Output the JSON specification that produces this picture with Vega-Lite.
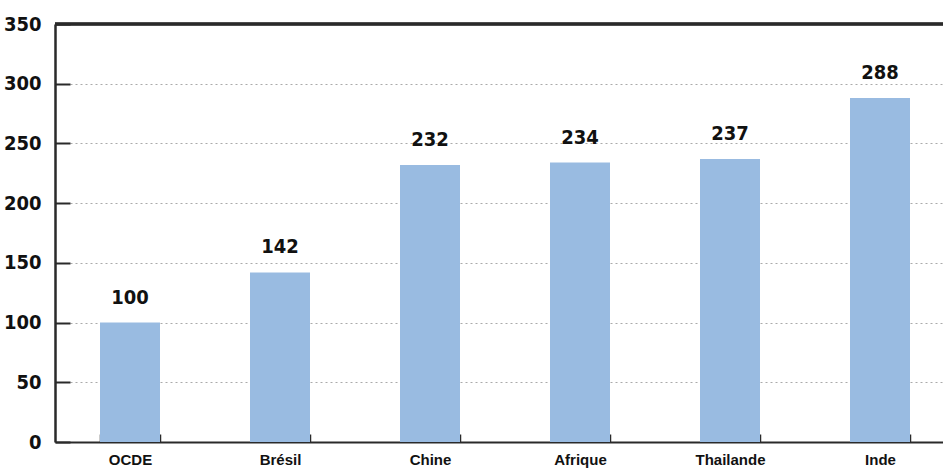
{
  "$schema": "https://vega.github.io/schema/vega-lite/v6.json",
  "width": 888,
  "height": 418,
  "autosize": {"type": "none"},
  "padding": {"left": 55, "top": 24, "right": 0, "bottom": 27},
  "background": "white",
  "config": {
    "view": {"stroke": null},
    "axis": {"labelColor": "#111", "domainColor": "#2a2a2a", "tickColor": "#2a2a2a"}
  },
  "data": {
    "values": [
      {"pays": "OCDE", "indice": 100},
      {"pays": "Brésil", "indice": 142},
      {"pays": "Chine", "indice": 232},
      {"pays": "Afrique", "indice": 234},
      {"pays": "Thailande", "indice": 237},
      {"pays": "Inde", "indice": 288}
    ]
  },
  "encoding": {
    "x": {
      "field": "pays",
      "type": "nominal",
      "sort": null,
      "scale": {"range": [0, 900], "paddingInner": 0.6, "paddingOuter": 0.3},
      "axis": {
        "title": null,
        "labelAngle": 0,
        "labelFont": "Liberation Sans",
        "labelFontWeight": "bold",
        "labelFontSize": 15,
        "labelPadding": 18,
        "tickBand": "extent",
        "tickSize": -8,
        "tickWidth": 1.5,
        "domainWidth": 2,
        "grid": false
      }
    },
    "y": {
      "field": "indice",
      "type": "quantitative",
      "scale": {"domain": [0, 350], "nice": false},
      "axis": {
        "title": null,
        "values": [0, 50, 100, 150, 200, 250, 300, 350],
        "labelFont": "DejaVu Sans Condensed",
        "labelFontWeight": "bold",
        "labelFontSize": 20,
        "labelPadding": 29,
        "tickSize": -15,
        "tickWidth": 2,
        "domainWidth": 2.5,
        "grid": true,
        "gridColor": "#aaaaaa",
        "gridDash": [2, 3],
        "gridWidth": 1
      }
    }
  },
  "layer": [
    {"mark": {"type": "bar", "color": "#99bbe1"}},
    {
      "mark": {
        "type": "text",
        "dy": -19,
        "baseline": "alphabetic",
        "font": "DejaVu Sans Condensed",
        "fontWeight": "bold",
        "fontSize": 20,
        "color": "#111"
      },
      "encoding": {"text": {"field": "indice", "type": "quantitative"}}
    },
    {
      "mark": {"type": "rule", "color": "#2a2a2a", "strokeWidth": 2.5},
      "encoding": {"y": {"datum": 350}, "x": null}
    }
  ]
}
